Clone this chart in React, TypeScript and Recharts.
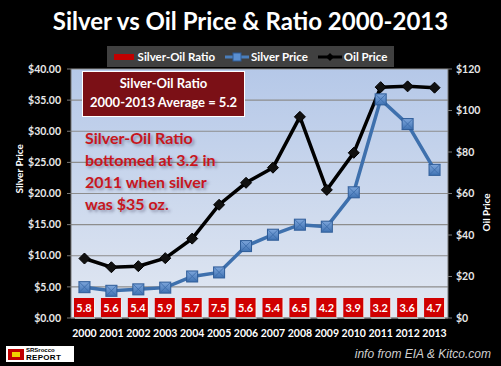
import { ComposedChart, Line, Bar, XAxis, YAxis, CartesianGrid } from "recharts";

const years = ["2000", "2001", "2002", "2003", "2004", "2005", "2006", "2007", "2008", "2009", "2010", "2011", "2012", "2013"];
const silverPrice = [4.95, 4.37, 4.6, 4.88, 6.67, 7.32, 11.55, 13.38, 14.99, 14.67, 20.19, 35.12, 31.15, 23.8];
const oilPrice = [28.66, 24.46, 24.99, 28.85, 38.26, 54.57, 65.16, 72.44, 96.94, 61.74, 79.61, 111.26, 111.63, 111.0];
const ratio = [5.8, 5.6, 5.4, 5.9, 5.7, 7.5, 5.6, 5.4, 6.5, 4.2, 3.9, 3.2, 3.6, 4.7];
const leftTicks = [0, 5, 10, 15, 20, 25, 30, 35, 40];
const rightTicks = [0, 20, 40, 60, 80, 100, 120];

const data = years.map((y, i) => ({
  year: y,
  silver: silverPrice[i],
  oil: oilPrice[i],
  ratio: ratio[i],
}));

const FONT = "Lato, 'Open Sans', sans-serif";

// red label boxes sitting on the baseline
function RatioBox(props: any) {
  const { x, y, width, height, payload } = props;
  const base = y + height;
  const w = 20;
  const h = 19;
  const cx = x + width / 2;
  return (
    <g>
      <rect x={cx - w / 2 + 1} y={base - h + 1} width={w} height={h} fill="#f2f2f2" />
      <rect x={cx - w / 2} y={base - h - 1} width={w} height={h} fill="#d00000" />
      <text x={cx} y={base - h / 2 + 3} textAnchor="middle" fill="#fff" fontSize={11} fontWeight={700} fontFamily={FONT}>
        {payload.ratio.toFixed(1)}
      </text>
    </g>
  );
}

function SquareDot(props: any) {
  const { cx, cy } = props;
  const s = 11;
  return (
    <g>
      <rect x={cx - s / 2} y={cy - s / 2} width={s} height={s} fill="url(#sqGrad)" stroke="#2c5a96" strokeWidth={1} />
      <line x1={cx - s / 2} y1={cy - s / 2} x2={cx + s / 2} y2={cy + s / 2} stroke="#3a6aa8" strokeWidth={0.8} />
      <line x1={cx + s / 2} y1={cy - s / 2} x2={cx - s / 2} y2={cy + s / 2} stroke="#3a6aa8" strokeWidth={0.8} />
    </g>
  );
}

function DiamondDot(props: any) {
  const { cx, cy } = props;
  const r = 5.5;
  return <path d={`M${cx},${cy - r}L${cx + r},${cy}L${cx},${cy + r}L${cx - r},${cy}Z`} fill="#111" stroke="#000" />;
}

export default function App() {
  return (
    <div style={{ position: "absolute", left: 0, top: 0, width: 501, height: 366, background: "#000", fontFamily: FONT, overflow: "hidden" }}>
      <div style={{ position: "absolute", left: 0, top: 6, width: 501, textAlign: "center", color: "#fff", fontSize: 24, fontWeight: 700 }}>
        Silver vs Oil Price &amp; Ratio 2000-2013
      </div>

      {/* legend */}
      <div style={{ position: "absolute", left: 107, top: 46, width: 287, height: 21, background: "#404040", color: "#fff", fontSize: 11.5, fontWeight: 700, display: "flex", alignItems: "center", justifyContent: "center", gap: 10 }}>
        <span style={{ display: "flex", alignItems: "center" }}>
          <span style={{ display: "inline-block", width: 20, height: 6, background: "#c00000", marginRight: 4 }} />
          Silver-Oil Ratio
        </span>
        <span style={{ display: "flex", alignItems: "center" }}>
          <svg width={24} height={10} style={{ marginRight: 2 }}>
            <line x1={0} y1={5} x2={24} y2={5} stroke="#4a7ebb" strokeWidth={3} />
            <rect x={8} y={1} width={8} height={8} fill="#5b8fd0" stroke="#2c5a96" />
          </svg>
          Silver Price
        </span>
        <span style={{ display: "flex", alignItems: "center" }}>
          <svg width={24} height={10} style={{ marginRight: 2 }}>
            <line x1={0} y1={5} x2={24} y2={5} stroke="#000" strokeWidth={3} />
            <path d="M12,1L16,5L12,9L8,5Z" fill="#000" />
          </svg>
          Oil Price
        </span>
      </div>

      <ComposedChart
        width={501}
        height={366}
        data={data}
        margin={{ top: 69, right: 0, bottom: 28, left: 0 }}
        barCategoryGap={6}
        style={{ position: "absolute", left: 0, top: 0 }}
      >
        <defs>
          <linearGradient id="plotBg" x1="0" y1="0" x2="0" y2="1">
            <stop offset="0%" stopColor="#b5c8e8" />
            <stop offset="100%" stopColor="#e2e8f2" />
          </linearGradient>
          <linearGradient id="sqGrad" x1="0" y1="0" x2="0" y2="1">
            <stop offset="0%" stopColor="#7ea6db" />
            <stop offset="100%" stopColor="#3f72b3" />
          </linearGradient>
        </defs>
        <CartesianGrid yAxisId="left" vertical={false} stroke="#8d8d8d" strokeWidth={1.2} fill="url(#plotBg)" fillOpacity={1} />
        <XAxis
          dataKey="year"
          height={20}
          tickLine={false}
          axisLine={{ stroke: "#777" }}
          tick={{ fill: "#fff", fontSize: 10.5, fontWeight: 700, fontFamily: FONT }}
          tickMargin={6}
          interval={0}
        />
        <YAxis
          yAxisId="left"
          width={71}
          domain={[0, 40]}
          ticks={leftTicks}
          tickFormatter={(v: number) => `$${v.toFixed(2)}`}
          tick={{ fill: "#e8e8e8", fontSize: 10.5, fontWeight: 700, fontFamily: FONT }}
          tickLine={{ stroke: "#777" }}
          tickSize={4}
          tickMargin={6}
          axisLine={{ stroke: "#777" }}
          label={{ value: "Silver Price", angle: -90, position: "insideLeft", offset: 19, fill: "#fff", fontSize: 10, fontWeight: 700, fontFamily: FONT }}
        />
        <YAxis
          yAxisId="right"
          orientation="right"
          width={53}
          domain={[0, 120]}
          ticks={rightTicks}
          tickFormatter={(v: number) => `$${v}`}
          tick={{ fill: "#e8e8e8", fontSize: 10.5, fontWeight: 700, fontFamily: FONT }}
          tickLine={{ stroke: "#777" }}
          tickSize={4}
          tickMargin={4}
          axisLine={{ stroke: "#777" }}
          label={{ value: "Oil Price", angle: -90, position: "insideRight", offset: 15, fill: "#fff", fontSize: 10, fontWeight: 700, fontFamily: FONT }}
        />
        <YAxis yAxisId="ratio" hide domain={[0, 10]} />
        <Bar yAxisId="ratio" dataKey="ratio" barSize={20} shape={<RatioBox />} isAnimationActive={false} />
        <Line yAxisId="left" dataKey="silver" stroke="#3e70ad" strokeWidth={3.5} dot={<SquareDot />} activeDot={false} isAnimationActive={false} />
        <Line yAxisId="right" dataKey="oil" stroke="#000" strokeWidth={3.5} dot={<DiamondDot />} activeDot={false} isAnimationActive={false} />
      </ComposedChart>

      {/* annotation box */}
      <div style={{ position: "absolute", left: 82, top: 71, width: 161, height: 42, background: "#7b1016", border: "1px solid #fff", color: "#fff", fontSize: 13, fontWeight: 700, textAlign: "center", lineHeight: "19px", paddingTop: 2 }}>
        Silver-Oil Ratio
        <br />
        2000-2013 Average = 5.2
      </div>

      <div style={{ position: "absolute", left: 85, top: 127, color: "#c8161d", fontSize: 16, fontWeight: 700, lineHeight: "22px", textShadow: "2px 2px 3px rgba(60,60,90,0.45)" }}>
        Silver-Oil Ratio
        <br />
        bottomed at 3.2 in
        <br />
        2011 when silver
        <br />
        was $35 oz.
      </div>

      {/* footer */}
      <div style={{ position: "absolute", left: 6, top: 346, width: 68, height: 16, background: "#fff", display: "flex", alignItems: "center" }}>
        <span style={{ display: "inline-block", width: 16, height: 11, background: "#c00000", marginLeft: 2, marginRight: 2, position: "relative" }}>
          <span style={{ position: "absolute", left: 4, top: 3, width: 8, height: 5, background: "#f0d000" }} />
        </span>
        <div style={{ fontFamily: "'Liberation Sans', Arial, sans-serif", fontWeight: 700, color: "#000" }}>
          <div style={{ fontSize: 6, lineHeight: "7px", height: 7 }}>SRSrocco</div>
          <div style={{ fontSize: 8, lineHeight: "8px", height: 8, letterSpacing: 0.3 }}>REPORT</div>
        </div>
      </div>
      <div style={{ position: "absolute", right: 10, top: 347, color: "#d0d0d0", fontSize: 12, fontStyle: "italic", fontFamily: "'Liberation Sans', Arial, sans-serif" }}>
        info from EIA &amp; Kitco.com
      </div>
    </div>
  );
}
